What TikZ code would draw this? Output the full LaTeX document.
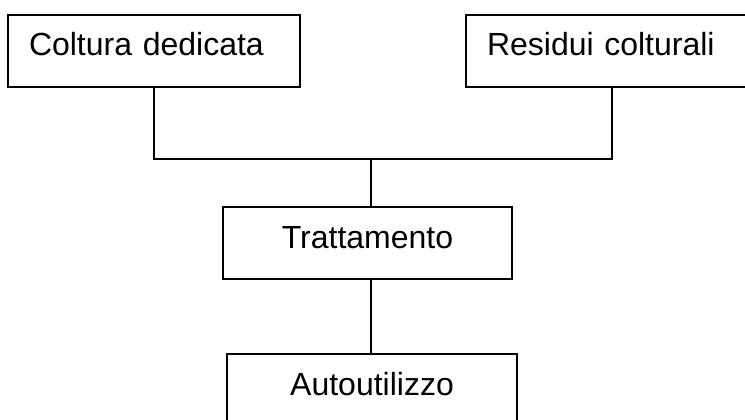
\documentclass[tikz,border=0pt]{standalone}
\usepackage{fontspec}
\setmainfont{Liberation Sans}
\usetikzlibrary{positioning}

\tikzset{
  box/.style={draw, line width=1.3pt, minimum height=72pt, inner ysep=0pt,
    text height=22pt, text depth=12pt, font=\fontsize{32}{38}\selectfont},
  topbox/.style={box, align=left, inner xsep=21pt, text width=250pt}
}

\begin{document}
\begin{tikzpicture}[x=1pt, y=-1pt]
  \useasboundingbox (0,0) rectangle (745,420);
  \node (cd) at (154,51) [topbox] {Coltura dedicata};
  \node (rc) at (612,51) [topbox] {Residui colturali};
  \node (tr) at (367.5,243) [box, minimum width=289pt] {Trattamento};
  \node (au) at (372,390) [box, minimum width=290pt] {Autoutilizzo};
  \coordinate (j) at (371,159);
  \draw [line width=1.3pt] (cd.south) |- (j) -| (rc.south);
  \draw [line width=1.3pt] (j) -- (j |- tr.north);
  \draw [line width=1.3pt] (j |- tr.south) -- (j |- au.north);
\end{tikzpicture}
\end{document}
